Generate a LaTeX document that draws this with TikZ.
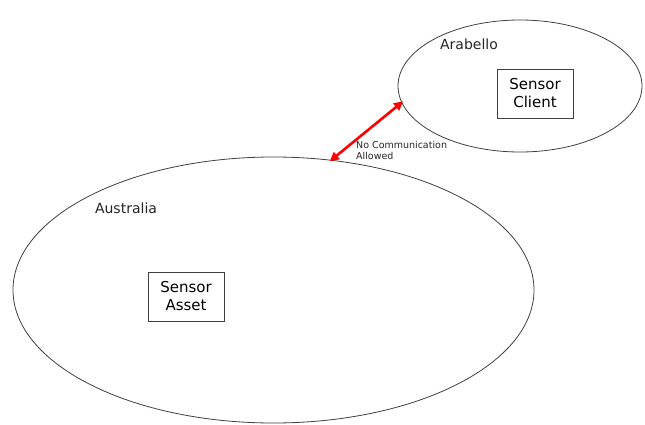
\documentclass[tikz,border=0pt]{standalone}
\usepackage{fontspec}
\setmainfont{DejaVu Sans}
\usetikzlibrary{shapes.geometric,arrows.meta}
\tikzset{
  region/.style={ellipse,draw=black!75,line width=0.8pt,inner sep=0pt},
  sensorbox/.style={draw=black!75,line width=0.8pt,align=center,minimum width=76pt,minimum height=49pt,inner sep=0pt,font=\fontsize{15pt}{18pt}\selectfont},
  blocked/.style={red,line width=2.6pt,{Triangle[length=9pt,width=9pt]}-{Triangle[length=9pt,width=9pt]},shorten <=-2pt,shorten >=-2pt}
}
\begin{document}
\begin{tikzpicture}[x=1pt,y=-1pt]
  \useasboundingbox[fill=white] (0,0) rectangle (645,425);
  % regions
  \node[region,minimum width=521pt,minimum height=266pt] (australia) at (273.5,290) {};
  \node[region,minimum width=244pt,minimum height=132pt] (arabello) at (520,86) {};
  \node[font=\fontsize{14pt}{17pt}\selectfont,text=black!85] (australiaLbl) at (126,208) {Australia};
  \node[font=\fontsize{14pt}{17pt}\selectfont,text=black!85] (arabelloLbl) at (469,44) {Arabello};
  % sensors
  \node[sensorbox] (asset) at (186,296.5) {Sensor\\Asset};
  \node[sensorbox] (client) at (535,93.5) {Sensor\\Client};
  % link
  \draw[blocked] (australia.66) -- (arabello.188);
  \node[anchor=north west,align=left,inner sep=0pt,font=\fontsize{9.5pt}{11pt}\selectfont,text=black!85] (nocomm) at (356,141) {No Communication\\Allowed};
\end{tikzpicture}
\end{document}
